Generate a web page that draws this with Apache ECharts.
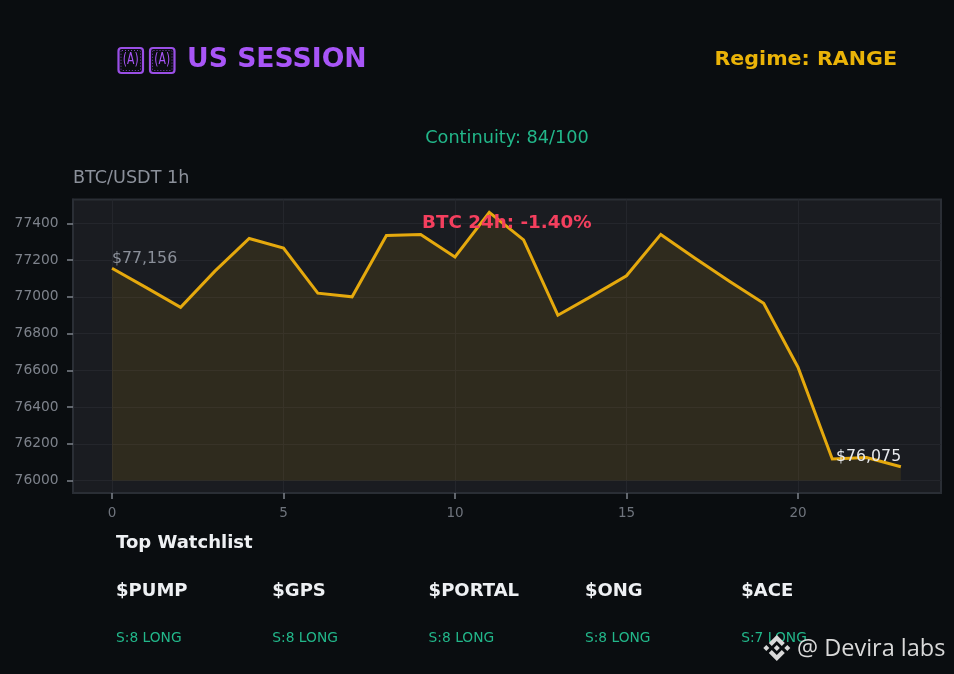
<!DOCTYPE html>
<html><head><meta charset="utf-8">
<style>html,body{margin:0;padding:0;background:#0a0d10}#c{width:954px;height:674px}</style>
<script src="https://cdn.jsdelivr.net/npm/echarts@6/dist/echarts.min.js"></script>
</head><body><div id="c"></div>
<script>
const hours = [0,1,2,3,4,5,6,7,8,9,10,11,12,13,14,15,16,17,18,19,20,21,22,23];
const prices = [77156,77050,76943,77140,77318,77266,77020,77000,77334,77340,77217,77460,77310,76900,77005,77115,77340,77210,77085,76965,76617,76117,76125,76075];
const xTicks = [0,5,10,15,20];
const yTicks = [76000,76200,76400,76600,76800,77000,77200,77400];
const watchSymbols = ['$PUMP','$GPS','$PORTAL','$ONG','$ACE'];
const watchSignals = ['S:8 LONG','S:8 LONG','S:8 LONG','S:8 LONG','S:7 LONG'];
const F = 'DejaVu Sans';
const SX = 1.03;
const txt = (x,y,text,size,fill,weight,align,fam,sx) => ({type:'text',x,y,scaleX:sx||SX,z:10,style:{text,x:0,y:0,font:`${weight||'normal'} ${size}px "${fam||F}"`,fill,textAlign:align||'left',textVerticalAlign:'middle'}});
const graphic = [
  txt(187,60,'US SESSION',25.9,'#a855f7','bold'),
  txt(897,60,'Regime: RANGE',20,'#eab308','bold','right'),
  txt(507,138.5,'Continuity: 84/100',17.2,'#22b78a','normal','center'),
  txt(73,178.5,'BTC/USDT 1h',17.1,'#8b909a'),
  txt(116,543.5,'Top Watchlist',17.5,'#eef0f3','bold')
];
[118.5,150].forEach(x=>{
  graphic.push({type:'rect',x,y:48,z:10,shape:{x:0,y:0,width:24.5,height:25,r:3},style:{fill:'none',stroke:'#9a4fe6',lineWidth:2.2}});
  graphic.push({type:'rect',x:x+2.5,y:50.5,z:10,shape:{x:0,y:0,width:19.5,height:20,r:1},style:{fill:'none',stroke:'#7a3fb8',lineWidth:1,lineDash:[1,2]}});
  graphic.push(txt(x+12.2,60,'(A)',15,'#a855f7','normal','center',F,0.72));
});
watchSymbols.forEach((s,i)=>{
  const x = 116 + i*156.3;
  graphic.push(txt(x,591.5,s,17.5,'#eef0f3','bold'));
  graphic.push(txt(x,639,watchSignals[i],13.4,'#22b78a'));
});
graphic.push(txt(797,649,'@ Devira labs',23.5,'#d9d9d9','normal','left','Open Sans',1));
const logoPieces = [
  [[0,-13],[8,-5],[5,-2],[0,-7],[-5,-2],[-8,-5]],
  [[-10.5,-3],[-7.500,0],[-10.500,3],[-13.500,0]],
  [[10.500,-3],[13.500,0],[10.500,3],[7.500,0]],
  [[0,-3],[3,0],[0,3],[-3,0]],
  [[0,13],[8,5],[5,2],[0,7],[-5,2],[-8,5]]
];
logoPieces.forEach(points=>graphic.push({type:'polygon',x:776.8,y:648,z:11,shape:{points},style:{fill:'#d9d9d9'}}));
graphic.push(txt(422,223,'BTC 24h: -1.40%',17.8,'#f43f5e','bold'));
graphic.push(txt(112,259,'$77,156',15.3,'#8b909a'));
graphic.push(txt(836,457.500,'$76,075',15.3,'#e8eaed'));
const grid = '#24262c';
const chart = echarts.init(document.getElementById('c'),null,{renderer:'canvas'});
chart.setOption({
  backgroundColor:'#0a0d10',animation:false,
  textStyle:{fontFamily:F},
  graphic:{elements:graphic},
  grid:{left:73,top:199.5,right:13,bottom:181,show:true,backgroundColor:'#1a1c21',borderColor:'#2a2e35',borderWidth:2},
  xAxis:{type:'value',min:-1.137,max:24.17,
    axisLine:{show:true,onZero:false,lineStyle:{color:'#2a2e35',width:2}},
    axisTick:{show:true,inside:false,customValues:xTicks,length:6,lineStyle:{color:'#7d828b',width:1.5}},
    axisLabel:{show:true,customValues:xTicks,color:'#6f747d',fontSize:13.5,margin:13.5,fontFamily:F},
    splitLine:{show:true,lineStyle:{color:grid,width:1}}},
  yAxis:{type:'value',min:75932,max:77530,
    axisLine:{show:true,onZero:false,lineStyle:{color:'#2a2e35',width:2}},
    axisTick:{show:true,inside:false,customValues:yTicks,length:6,lineStyle:{color:'#7d828b',width:1.5}},
    axisLabel:{show:true,customValues:yTicks,color:'#7d828b',fontSize:13.8,margin:14.5,fontFamily:F,formatter:v=>String(v)},
    splitLine:{show:true,lineStyle:{color:grid,width:1}}},
  series:[
   {type:'line',data:hours.map((h,i)=>[h,prices[i]]),symbol:'none',smooth:false,z:3,
    lineStyle:{color:'#e5a90d',width:3,join:'miter'},
    areaStyle:{origin:76000,color:'rgba(229,169,13,0.15)'}}
  ]
});
</script></body></html>
